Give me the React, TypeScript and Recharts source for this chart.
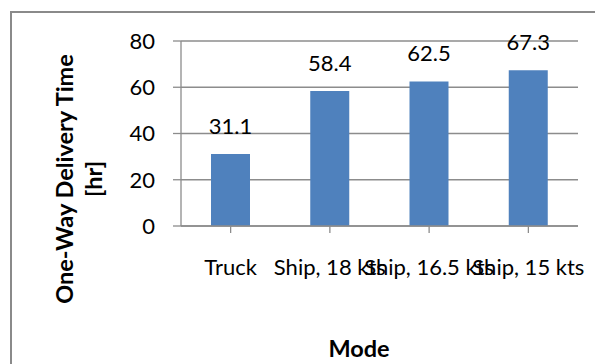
import { BarChart, Bar, XAxis, YAxis, CartesianGrid, LabelList, Label } from "recharts";

const modes = ["Truck", "Ship, 18 kts", "Ship, 16.5 kts", "Ship, 15 kts"];
const deliveryHours = [31.1, 58.4, 62.5, 67.3];
const hourTicks = [0, 20, 40, 60, 80];

const data = modes.map((mode, i) => ({ mode, hours: deliveryHours[i] }));

const FONT = "Lato, 'Liberation Sans', sans-serif";
const GRID = "#8c8c8c";
const BAR = "#4f81bd";

function YTitle() {
  return (
    <g fontFamily={FONT} fontWeight={700} fontSize={23.5} fill="#000">
      <text x={73} y={179} textAnchor="middle" transform="rotate(-90, 73, 179)">
        One-Way Delivery Time
      </text>
      <text x={102} y={179} textAnchor="middle" transform="rotate(-90, 102, 179)">
        [hr]
      </text>
    </g>
  );
}

function XTitle() {
  return (
    <text x={359} y={357} textAnchor="middle" fontFamily={FONT} fontWeight={700} fontSize={23.5} fill="#000">
      Mode
    </text>
  );
}

export default function App() {
  return (
    <div
      style={{
        position: "fixed",
        left: 0,
        top: 0,
        width: 595,
        height: 364,
        overflow: "hidden",
        background: "#fff",
      }}
    >
      {/* outer chart frame, runs off the right and bottom edges */}
      <div
        style={{
          position: "absolute",
          left: 10,
          top: 11,
          width: 700,
          height: 500,
          border: "2px solid #8a8a8a",
        }}
      />
      <BarChart
        width={595}
        height={364}
        data={data}
        margin={{ top: 41, right: 17, left: 0, bottom: 0 }}
        style={{ position: "absolute", left: 0, top: 0 }}
      >
        <CartesianGrid vertical={false} stroke={GRID} strokeWidth={1.3} />
        <XAxis
          dataKey="mode"
          height={138}
          interval={0}
          tickSize={7}
          tickMargin={26}
          axisLine={{ stroke: GRID, strokeWidth: 1.3 }}
          tickLine={{ stroke: GRID, strokeWidth: 1.3 }}
          tick={{ fill: "#000", fontSize: 22, fontFamily: FONT }}
        >
          <Label content={<XTitle />} />
        </XAxis>
        <YAxis
          width={181}
          domain={[0, 80]}
          ticks={hourTicks}
          tickSize={8}
          tickMargin={18}
          axisLine={{ stroke: GRID, strokeWidth: 1.3 }}
          tickLine={{ stroke: GRID, strokeWidth: 1.3 }}
          tick={{ fill: "#000", fontSize: 22, fontFamily: FONT }}
        >
          <Label content={<YTitle />} />
        </YAxis>
        <Bar dataKey="hours" fill={BAR} barSize={39} isAnimationActive={false}>
          <LabelList dataKey="hours" position="top" offset={20} fill="#000" fontSize={22} fontFamily={FONT} />
        </Bar>
      </BarChart>
    </div>
  );
}
